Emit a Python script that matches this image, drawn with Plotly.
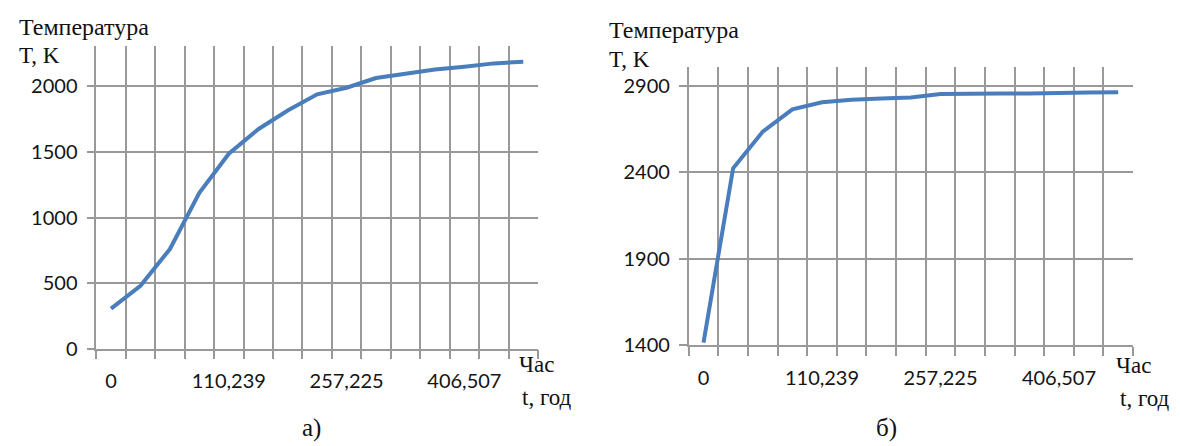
import plotly.graph_objects as go

# ---- data ----
categories = list(range(15))  # time points (category index)
tick_positions = [0, 4, 8, 12]
tick_labels = ["0", "110,239", "257,225", "406,507"]

temp_a = [306, 480, 760, 1189, 1487, 1674, 1816, 1940, 1990, 2064, 2097, 2129, 2151, 2176, 2189]
temp_b = [1415, 2424, 2636, 2765, 2806, 2821, 2828, 2834, 2853, 2857, 2857, 2857, 2857, 2862, 2864]

W, H = 1180, 446
LINE = "#4a7dbb"
GRID = "#999999"
TICKFONT = dict(family="Lato, Open Sans, sans-serif", size=20, color="#141414")
SERIF = "Liberation Serif, Times New Roman, DejaVu Serif, serif"


def px(x):
    return x / W


def py(y):
    return 1 - y / H


fig = go.Figure()
fig.add_trace(go.Scatter(x=categories, y=temp_a, mode="lines",
                         line=dict(color=LINE, width=4), xaxis="x", yaxis="y",
                         showlegend=False, hoverinfo="skip"))
fig.add_trace(go.Scatter(x=categories, y=temp_b, mode="lines",
                         line=dict(color=LINE, width=4), xaxis="x2", yaxis="y2",
                         showlegend=False, hoverinfo="skip"))


def xaxis_def(domain, anchor):
    return dict(
        domain=domain, anchor=anchor, range=[-0.5, 14.5], type="linear",
        tickmode="array", tickvals=tick_positions, ticktext=tick_labels,
        ticks="", showgrid=False, zeroline=False,
        showline=True, linecolor=GRID, linewidth=1.6,
        tickfont=TICKFONT, ticklabelstandoff=14,
        minor=dict(tick0=-0.5, dtick=1, ticks="outside", ticklen=9,
                   tickcolor=GRID, tickwidth=1.6, showgrid=True,
                   gridcolor=GRID, gridwidth=1.6),
    )


def yaxis_def(domain, anchor, rng, tvals):
    return dict(
        domain=domain, anchor=anchor, range=rng, tickmode="array", tickvals=tvals,
        ticks="outside", ticklen=8, tickcolor=GRID, tickwidth=1.6,
        showgrid=True, gridcolor=GRID, gridwidth=1.6, zeroline=False,
        showline=True, linecolor=GRID, linewidth=1.6,
        tickfont=TICKFONT, ticklabelstandoff=5,
    )


fig.update_layout(
    width=W, height=H, margin=dict(l=0, r=0, t=0, b=0),
    paper_bgcolor="white", plot_bgcolor="white",
    xaxis=xaxis_def([px(88.3), px(530)], "y"),
    yaxis=yaxis_def([py(349.3), py(39.3)], "x", [0, 2306], [0, 500, 1000, 1500, 2000]),
    xaxis2=xaxis_def([px(680.7), px(1125)], "y2"),
    yaxis2=yaxis_def([py(345.7), py(61)], "x2", [1400, 3007], [1400, 1900, 2400, 2900]),
)

ann = []


def text(x, y, s, anchor="left", size=23):
    ann.append(dict(x=px(x), y=py(y), xref="paper", yref="paper", text=s,
                    showarrow=False, xanchor=anchor, yanchor="middle",
                    font=dict(family=SERIF, size=size, color="#111111")))


text(9, 19, "Температура", size=24)
text(9, 49, "T, K")
text(599, 23, "Температура", size=24)
text(599, 53, "T, K")
text(509, 366, "Час")
text(512, 399, "t, год")
text(1106, 367, "Час")
text(1110, 400, "t, год")
text(303, 431, "а)", anchor="center", size=25)
text(878, 431, "б)", anchor="center", size=25)

fig.update_layout(annotations=ann)
fig.write_html("out.html")
